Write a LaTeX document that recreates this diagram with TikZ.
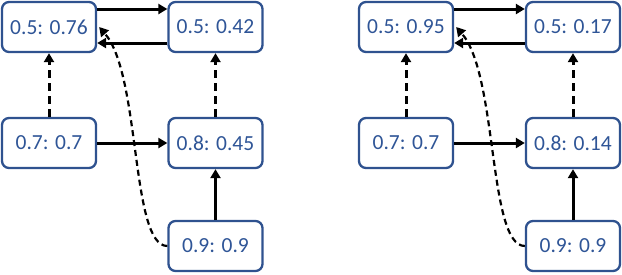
\documentclass[tikz,border=0pt]{standalone}
\usepackage{fontspec}
\setmainfont{Carlito}
\usetikzlibrary{arrows.meta}
\definecolor{boxblue}{RGB}{47,82,143}
\definecolor{txtblue}{RGB}{47,85,151}
\begin{document}
\begin{tikzpicture}[x=1pt,y=-1pt,
  vbox/.style={draw=boxblue, line width=2.3pt, rounded corners=7pt, fill=white,
    minimum width=94pt, minimum height=50pt, inner sep=0pt,
    text=txtblue, font=\fontsize{21.5}{25}\selectfont},
  solidarr/.style={line width=3pt, -{Triangle[length=9pt,width=10pt]}},
  dasharr/.style={line width=3pt, dash pattern=on 8pt off 5pt, -{Triangle[length=9pt,width=10pt]}},
  curvearr/.style={line width=2.2pt, dash pattern=on 6pt off 4pt, -{Triangle[length=9pt,width=10pt]}}]
\useasboundingbox (0,0) rectangle (622,274);
% left panel
\node[vbox] (A) at (49,27) {0.5: 0.76};
\node[vbox] (B) at (215.5,27) {0.5: 0.42};
\node[vbox] (C) at (49,143) {0.7: 0.7};
\node[vbox] (D) at (215.5,143) {0.8: 0.45};
\node[vbox] (E) at (215.5,246) {0.9: 0.9};
\draw[solidarr] ([yshift=18pt]A.east) -- ([yshift=18pt]B.west);
\draw[solidarr] ([yshift=-16pt]B.west) -- ([yshift=-16pt]A.east);
\draw[dasharr] (C.north) -- (A.south);
\draw[dasharr] (D.north) -- (B.south);
\draw[solidarr] (C.east) -- (D.west);
\draw[solidarr] (E.north) -- (D.south);
\draw[curvearr] (E.west) .. controls +(-37,0) and +(42,48) .. ([xshift=2pt]A.east);
% right panel
\node[vbox] (A2) at (406,27) {0.5: 0.95};
\node[vbox] (B2) at (573,27) {0.5: 0.17};
\node[vbox] (C2) at (406,143) {0.7: 0.7};
\node[vbox] (D2) at (573,143) {0.8: 0.14};
\node[vbox] (E2) at (573,246) {0.9: 0.9};
\draw[solidarr] ([yshift=18pt]A2.east) -- ([yshift=18pt]B2.west);
\draw[solidarr] ([yshift=-16pt]B2.west) -- ([yshift=-16pt]A2.east);
\draw[dasharr] (C2.north) -- (A2.south);
\draw[dasharr] (D2.north) -- (B2.south);
\draw[solidarr] (C2.east) -- (D2.west);
\draw[solidarr] (E2.north) -- (D2.south);
\draw[curvearr] (E2.west) .. controls +(-37,0) and +(42,48) .. ([xshift=2pt]A2.east);
\end{tikzpicture}
\end{document}
